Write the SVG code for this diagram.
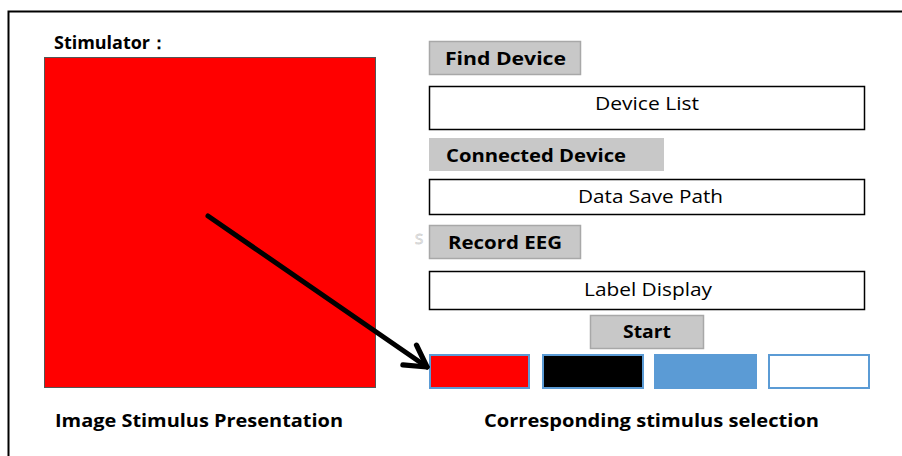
<svg xmlns="http://www.w3.org/2000/svg" width="902" height="456" viewBox="0 0 902 456">
<defs>
<style>
.t{font-family:"Open Sans","Liberation Sans",sans-serif;fill:#000}
.b{font-weight:bold;font-size:18px}
.r{font-size:18.5px}
.btn{fill:#c8c8c8;stroke:#a8a8a8;stroke-width:1.5}
.box{fill:#fff;stroke:#000;stroke-width:1.5}
.sw{stroke:#5b9bd5;stroke-width:2}
</style>
<marker id="ah" viewBox="0 0 20 20" refX="17" refY="10" markerWidth="6" markerHeight="6" orient="auto" markerUnits="strokeWidth">
<path d="M3,2 L17,10 L3,18" fill="none" stroke="#000" stroke-width="3.5" stroke-linejoin="round" stroke-linecap="round"/>
</marker>
</defs>
<rect width="902" height="456" fill="#fff"/>
<path d="M8.5,456 V11.5 H902" fill="none" stroke="#000" stroke-width="2"/>
<g id="stimulator">
<text class="t b" x="54" y="49" textLength="114" lengthAdjust="spacingAndGlyphs">Stimulator：</text>
<rect x="44.5" y="57.5" width="331" height="330" fill="#ff0000" stroke="#555" stroke-width="1"/>
<text class="t b" x="55" y="427" textLength="288" lengthAdjust="spacingAndGlyphs">Image Stimulus Presentation</text>
</g>
<g id="find-device">
<rect class="btn" x="429.5" y="41.5" width="151" height="33"/>
<text class="t b" x="445" y="65" textLength="121" lengthAdjust="spacingAndGlyphs">Find  Device</text>
</g>
<g id="device-list">
<rect class="box" x="429.5" y="86.5" width="435" height="43"/>
<text class="t r" x="595" y="110" textLength="104" lengthAdjust="spacingAndGlyphs">Device List</text>
</g>
<g id="connected-device">
<rect x="429" y="138" width="235" height="33" fill="#c8c8c8"/>
<text class="t b" x="446" y="162" textLength="180" lengthAdjust="spacingAndGlyphs">Connected Device</text>
</g>
<g id="data-save-path">
<rect class="box" x="429.5" y="179.5" width="435" height="35"/>
<text class="t r" x="578" y="203" textLength="145" lengthAdjust="spacingAndGlyphs">Data Save Path</text>
</g>
<g id="record-eeg">
<text x="415" y="244" font-family="Open Sans,sans-serif" font-size="15" fill="#fff" stroke="#d0d0d0" stroke-width="0.8">S</text>
<rect class="btn" x="429.5" y="225.5" width="151" height="33"/>
<text class="t b" x="448" y="249" textLength="114" lengthAdjust="spacingAndGlyphs">Record EEG</text>
</g>
<g id="label-display">
<rect class="box" x="429.5" y="271.5" width="435" height="38"/>
<text class="t r" x="584" y="296" textLength="128" lengthAdjust="spacingAndGlyphs">Label Display</text>
</g>
<g id="start">
<rect class="btn" x="590.5" y="315.5" width="113" height="33"/>
<text class="t b" x="623" y="338" textLength="48" lengthAdjust="spacingAndGlyphs">Start</text>
</g>
<g id="stimulus-selection">
<rect class="sw" x="430" y="355" width="99" height="33" fill="#ff0000"/>
<rect class="sw" x="543" y="355" width="100" height="33" fill="#000"/>
<rect class="sw" x="655" y="355" width="101" height="33" fill="#5b9bd5"/>
<rect class="sw" x="769" y="355" width="100" height="33" fill="#fff"/>
<text class="t b" x="484" y="427" textLength="335" lengthAdjust="spacingAndGlyphs">Corresponding stimulus selection</text>
</g>
<g id="connectors">
<line x1="208" y1="216" x2="427" y2="367" stroke="#000" stroke-width="5" stroke-linecap="round" marker-end="url(#ah)"/>
</g>
</svg>
